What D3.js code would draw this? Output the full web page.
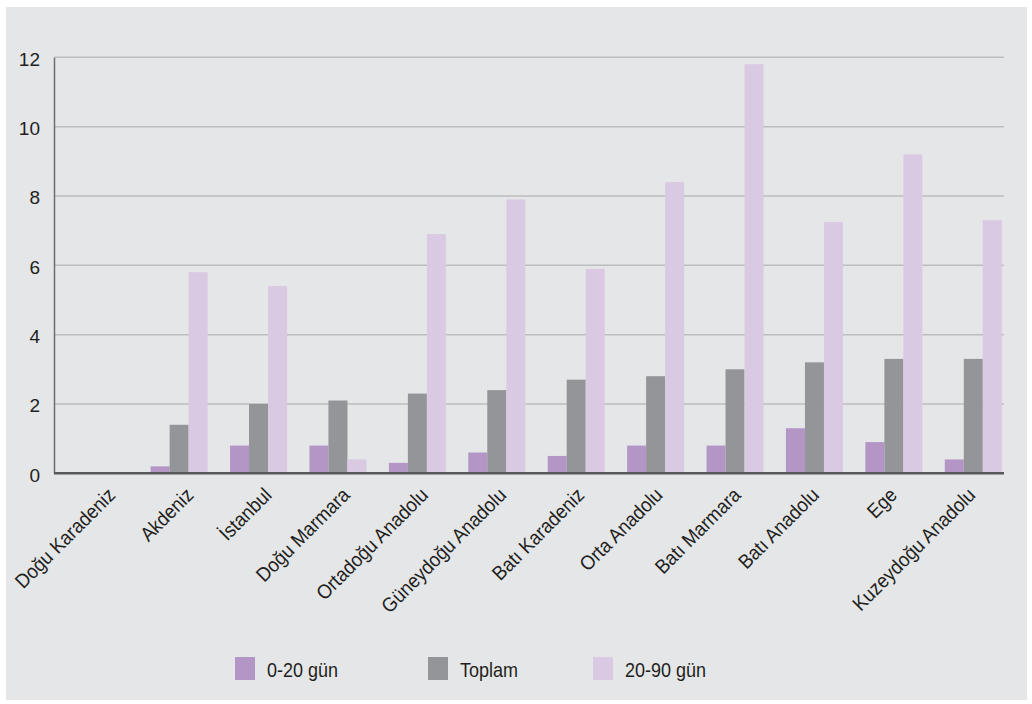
<!DOCTYPE html>
<html>
<head>
<meta charset="utf-8">
<script src="https://cdn.jsdelivr.net/npm/d3@7"></script>
<style>
  html, body { margin: 0; padding: 0; background: #ffffff; }
  svg { display: block; }
  text { font-family: "Liberation Sans", Arial, sans-serif; fill: #231f20; }
</style>
</head>
<body>
<svg id="chart" width="1032" height="704"></svg>
<script>
// Regions along the horizontal axis
const regions = [
  "Doğu Karadeniz", "Akdeniz", "İstanbul", "Doğu Marmara", "Ortadoğu Anadolu",
  "Güneydoğu Anadolu", "Batı Karadeniz", "Orta Anadolu", "Batı Marmara",
  "Batı Anadolu", "Ege", "Kuzeydoğu Anadolu"
];

// Series names (legend order = bar order within each group)
const seriesNames = ["0-20 gün", "Toplam", "20-90 gün"];

// Values per series, in region order
const days0to20  = [0, 0.2, 0.8, 0.8, 0.3, 0.6, 0.5, 0.8, 0.8, 1.3, 0.9, 0.4];
const total      = [0, 1.4, 2.0, 2.1, 2.3, 2.4, 2.7, 2.8, 3.0, 3.2, 3.3, 3.3];
const days20to90 = [0, 5.8, 5.4, 0.4, 6.9, 7.9, 5.9, 8.4, 11.8, 7.25, 9.2, 7.3];

// Y axis ticks
const yTicks = [0, 2, 4, 6, 8, 10, 12];

const seriesValues = [days0to20, total, days20to90];
const colors = ["#b396c6", "#939598", "#d9c9e3"];

const svg = d3.select("#chart");

// Panel background
svg.append("rect")
  .attr("x", 6).attr("y", 7)
  .attr("width", 1021).attr("height", 693)
  .attr("fill", "#e5e6e8");

const plotLeft = 54, plotRight = 1004;
const y = d3.scaleLinear().domain([0, 12]).range([473.3, 57.3]);

// Bar groups
const x = d3.scaleBand()
  .domain(regions)
  .range([60, 1013])
  .paddingInner(0.282)
  .paddingOuter(0.141);

const xs = d3.scaleBand()
  .domain(seriesNames)
  .range([0, x.bandwidth()]);

// Label anchors (end of each rotated region name)
const xLabel = d3.scalePoint()
  .domain(regions)
  .range([116, 976]);

// Horizontal gridlines
svg.append("g")
  .selectAll("line")
  .data(yTicks.filter(t => t > 0))
  .join("line")
  .attr("x1", plotLeft).attr("x2", plotRight)
  .attr("y1", d => y(d)).attr("y2", d => y(d))
  .attr("stroke", "#bcbdbf")
  .attr("stroke-width", 1.5);

// Y axis
const yAxis = d3.axisLeft(y).tickValues(yTicks).tickSize(0).tickPadding(14)
  .tickFormat(d3.format("d"));
const gy = svg.append("g")
  .attr("transform", `translate(${plotLeft},0)`)
  .call(yAxis);
gy.select(".domain").attr("stroke", "#6d6e71").attr("stroke-width", 1.5);
gy.selectAll("text")
  .style("font-size", "19px")
  .attr("dy", "0.42em")
  .attr("fill", "#231f20");

// Bars
const groups = svg.append("g")
  .selectAll("g")
  .data(regions)
  .join("g")
  .attr("transform", d => `translate(${x(d)},0)`);

groups.selectAll("rect")
  .data((d, i) => seriesNames.map((s, k) => ({ s, v: seriesValues[k][i], c: colors[k] })))
  .join("rect")
  .attr("x", d => xs(d.s))
  .attr("width", xs.bandwidth())
  .attr("y", d => y(d.v))
  .attr("height", d => y(0) - y(d.v))
  .attr("fill", d => d.c);

// X axis baseline and rotated region labels (slightly narrowed glyphs)
const xAxis = d3.axisBottom(xLabel).tickSize(0).tickSizeOuter(0);
const gx = svg.append("g")
  .attr("transform", `translate(0,${y(0)})`)
  .call(xAxis);
gx.select(".domain")
  .attr("d", `M${plotLeft},0H${plotRight}`)
  .attr("stroke", "#58595b")
  .attr("stroke-width", 2.5);
gx.selectAll(".tick text")
  .style("font-size", "20px")
  .attr("fill", "#231f20")
  .attr("text-anchor", "end")
  .attr("x", 0).attr("y", 0).attr("dy", 0)
  .attr("transform", "translate(0,23) rotate(-45) scale(0.92,1)");

// Legend
const legendX = [235, 428, 593];
const legend = svg.append("g")
  .selectAll("g")
  .data(seriesNames)
  .join("g")
  .attr("transform", (d, i) => `translate(${legendX[i]},657)`);
legend.append("rect")
  .attr("width", 20).attr("height", 23)
  .attr("fill", (d, i) => colors[i]);
legend.append("text")
  .attr("transform", "translate(32,20) scale(0.9,1)")
  .style("font-size", "20px")
  .text(d => d);
</script>
</body>
</html>
